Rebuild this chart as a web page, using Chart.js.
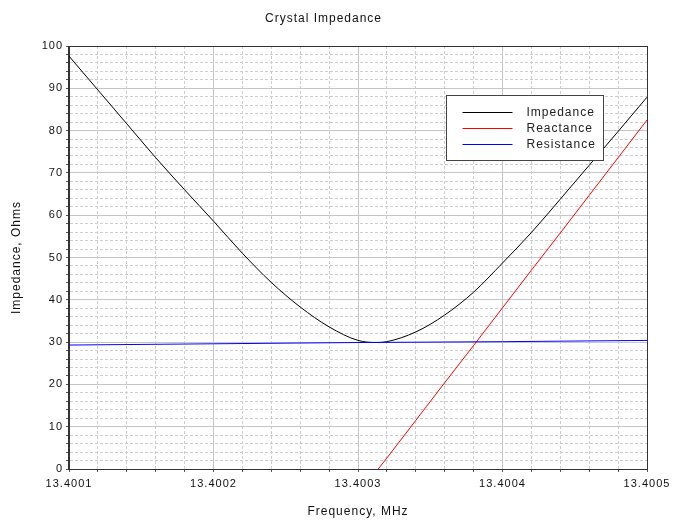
<!DOCTYPE html>
<html>
<head>
<meta charset="utf-8">
<title>Crystal Impedance</title>
<script src="https://cdn.jsdelivr.net/npm/chart.js@4.4.1/dist/chart.umd.min.js"></script>
<style>
    html, body { margin: 0; padding: 0; background: #ffffff; }
    #wrap { width: 686px; height: 523px; }
</style>
</head>
<body>
<div id="wrap"><canvas id="impedanceChart" width="686" height="523"></canvas></div>
<script>
// sweep data, frequency in MHz, values in ohms
const impedanceMHz = [13.40010, 13.40012, 13.40014, 13.40016, 13.40018, 13.40020, 13.40022,
    13.40024, 13.40026, 13.40028, 13.40030, 13.400313, 13.40032, 13.40034, 13.40036, 13.40038,
    13.40040, 13.40042, 13.40044, 13.40046, 13.40048, 13.40050];
const impedanceOhms = [97.6, 89.6, 81.6, 73.6, 66.0, 58.6, 51.0, 44.1, 38.3, 33.6, 30.4,
    29.9, 30.1, 32.4, 36.4, 41.8, 48.7, 55.9, 63.8, 71.8, 79.8, 87.9];

const reactanceMHz = [13.400314, 13.40032, 13.40034, 13.40036, 13.40038, 13.40040,
    13.40042, 13.40044, 13.40046, 13.40048, 13.40050];
const reactanceOhms = [0, 2.6, 11.5, 20.4, 29.2, 38.1, 47.0, 55.8, 64.7, 73.6, 82.5];

const resistanceMHz = [13.4001, 13.4002, 13.4003, 13.4004, 13.4005];
const resistanceOhms = [29.3, 29.6, 29.9, 30.1, 30.4];

// axis ticks: labelled majors, 5 minor divisions each
const xTickLabels = ['13.4001', '13.4002', '13.4003', '13.4004', '13.4005'];
const yTickLabels = ['0', '10', '20', '30', '40', '50', '60', '70', '80', '90', '100'];
const minorDivisions = 5;

function minorTicks(labels) {
    const values = [];
    for (let i = 0; i < labels.length - 1; i++) {
        const a = parseFloat(labels[i]);
        const b = parseFloat(labels[i + 1]);
        for (let j = 0; j < minorDivisions; j++) {
            values.push(a + (b - a) * j / minorDivisions);
        }
    }
    values.push(parseFloat(labels[labels.length - 1]));
    return values;
}

const xTickValues = minorTicks(xTickLabels);
const yTickValues = minorTicks(yTickLabels);

function toPoints(xs, ys) {
    return xs.map((x, i) => ({ x: x, y: ys[i] }));
}

const FONT = 'Liberation Sans, Arial, sans-serif';

// grid: solid for majors, dotted for minors
const gridOpts = {
    color: (ctx) => (ctx.index % minorDivisions === 0 ? '#c6c6c6' : '#cdcdcd'),
    lineWidth: 1,
    drawTicks: true,
    tickLength: 3,
    tickColor: '#555555'
};
const borderOpts = {
    color: '#333333',
    width: 1,
    dash: (ctx) => (ctx.index % minorDivisions ? [3, 2] : [])
};

// canvas letter spacing, the text here is drawn a bit wide
const spacingPlugin = {
    id: 'spacing',
    beforeUpdate(chart) { chart.ctx.letterSpacing = '1px'; },
    beforeDraw(chart) { chart.ctx.letterSpacing = '1px'; }
};

// frame round the plot area plus the boxed legend inside it
const framePlugin = {
    id: 'frame',
    afterDraw(chart) {
        const ctx = chart.ctx;
        const area = chart.chartArea;
        ctx.save();
        ctx.strokeStyle = '#333333';
        ctx.lineWidth = 1;
        ctx.strokeRect(Math.round(area.left) - 0.5, Math.round(area.top) + 0.5,
            Math.round(area.right - area.left) + 1, Math.round(area.bottom - area.top));

        const boxW = 157, boxH = 65;
        const bx = Math.round(area.right) - 201 + 0.5;
        const by = Math.round(area.top) + 49 + 0.5;
        ctx.fillStyle = '#ffffff';
        ctx.fillRect(bx, by, boxW, boxH);
        ctx.strokeStyle = '#444444';
        ctx.strokeRect(bx, by, boxW, boxH);

        ctx.font = '12px ' + FONT;
        ctx.textBaseline = 'middle';
        ctx.textAlign = 'left';
        chart.data.datasets.forEach((ds, i) => {
            const rowY = Math.round(by + 16 + i * 16) + 0.5;
            ctx.strokeStyle = ds.borderColor;
            ctx.beginPath();
            ctx.moveTo(bx + 16, rowY);
            ctx.lineTo(bx + 66, rowY);
            ctx.stroke();
            ctx.fillStyle = '#222222';
            ctx.fillText(ds.label, bx + 80, rowY);
        });
        ctx.restore();
    }
};

new Chart(document.getElementById('impedanceChart'), {
    type: 'line',
    data: {
        datasets: [
            {
                label: 'Impedance',
                data: toPoints(impedanceMHz, impedanceOhms),
                borderColor: '#000000',
                borderWidth: 1,
                pointRadius: 0,
                cubicInterpolationMode: 'monotone',
                order: 3
            },
            {
                label: 'Reactance',
                data: toPoints(reactanceMHz, reactanceOhms),
                borderColor: '#ff0000',
                borderWidth: 1,
                pointRadius: 0,
                order: 2
            },
            {
                label: 'Resistance',
                data: toPoints(resistanceMHz, resistanceOhms),
                borderColor: '#0000ff',
                borderWidth: 1,
                pointRadius: 0,
                order: 1
            }
        ]
    },
    options: {
        responsive: false,
        animation: false,
        devicePixelRatio: 1,
        layout: { padding: { left: 0, right: 39, top: 0, bottom: 0 } },
        plugins: {
            legend: { display: false },
            tooltip: { enabled: false },
            title: {
                display: true,
                text: 'Crystal Impedance',
                color: '#111111',
                font: { family: FONT, size: 12, weight: 'normal' },
                padding: { top: 11, bottom: 20.6 }
            }
        },
        scales: {
            x: {
                type: 'linear',
                min: parseFloat(xTickLabels[0]),
                max: parseFloat(xTickLabels[xTickLabels.length - 1]),
                afterBuildTicks: (scale) => { scale.ticks = xTickValues.map(v => ({ value: v })); },
                afterFit: (scale) => { scale.height = 54; },
                grid: gridOpts,
                border: borderOpts,
                ticks: {
                    autoSkip: false,
                    maxRotation: 0,
                    padding: 5,
                    color: '#111111',
                    font: { family: FONT, size: 11 },
                    callback: (value, index) => (index % minorDivisions === 0 ? xTickLabels[index / minorDivisions] : '')
                },
                title: {
                    display: true,
                    text: 'Frequency, MHz',
                    color: '#111111',
                    font: { family: FONT, size: 12 },
                    padding: { top: 0, bottom: 4 }
                }
            },
            y: {
                type: 'linear',
                min: 0,
                max: 100,
                afterBuildTicks: (scale) => { scale.ticks = yTickValues.map(v => ({ value: v })); },
                afterFit: (scale) => { scale.width = 69; },
                grid: gridOpts,
                border: borderOpts,
                ticks: {
                    autoSkip: false,
                    padding: 3,
                    color: '#111111',
                    font: { family: FONT, size: 11 },
                    callback: (value, index) => (index % minorDivisions === 0 ? yTickLabels[index / minorDivisions] : '')
                },
                title: {
                    display: true,
                    text: 'Impedance, Ohms',
                    color: '#111111',
                    font: { family: FONT, size: 12 },
                    padding: { top: 9, bottom: 0 }
                }
            }
        }
    },
    plugins: [spacingPlugin, framePlugin]
});
</script>
</body>
</html>
